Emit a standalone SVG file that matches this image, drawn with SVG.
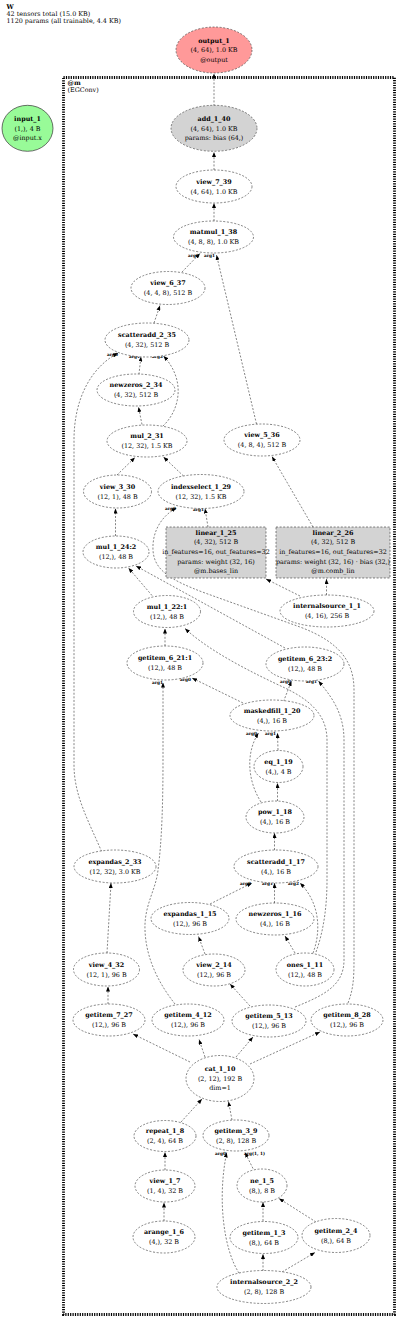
<svg xmlns="http://www.w3.org/2000/svg" width="400" height="1321" viewBox="0 0 400 1321">
<defs>
<marker id="ah" viewBox="0 0 5 4" refX="5" refY="2" markerWidth="5" markerHeight="4" markerUnits="userSpaceOnUse" orient="auto"><path d="M0,0 L5,2 L0,4 z" fill="#000"/></marker>
<style>
text{font-family:"DejaVu Serif","Liberation Serif",serif;font-size:6.4px;text-anchor:middle;fill:#000}
.b{font-weight:bold}
.t{text-anchor:start}
.lbl{font-size:4.3px;text-anchor:end;font-weight:bold}
.n ellipse,.n rect{fill:#fff;stroke:#333;stroke-width:0.6;stroke-dasharray:2,1.6}
.g ellipse,.g rect{fill:#d3d3d3}
.e path{fill:none;stroke:#333;stroke-width:0.6;stroke-dasharray:2,1.6;marker-end:url(#ah)}
</style>
</defs>
<rect width="400" height="1321" fill="#fff"/>
<g id="title">
<text class="b t" x="6.5" y="8.5">W</text>
<text class="t" x="6.5" y="15.5">42 tensors total (15.0 KB)</text>
<text class="t" x="6.5" y="22.5">1120 params (all trainable, 4.4 KB)</text>
</g>
<g id="cluster_m">
<rect x="63.5" y="77.5" width="331" height="1237" fill="none" stroke="#000" stroke-width="2.8" stroke-dasharray="1.2,1.2"/>
<text class="b t" x="67.5" y="84.5">@m</text>
<text class="t" x="67.5" y="91.5">(EGConv)</text>
</g>
<g id="edges" class="e">
<path d="M214,106 L214,73.5"/>
<path d="M214,170 L214,152"/>
<path d="M214,221 L214,203"/>
<path d="M182,272 L200,253.5"/>
<path d="M256.5,424 L216.5,255"/>
<path d="M154,323 L160,305.5"/>
<path d="M138.5,378 L141,356.5"/>
<path d="M101.7,851.7 C88,820 74,795 74,765 L74,440 C74,400 90,368 118,353"/>
<path d="M142,424.5 L138.5,407"/>
<path d="M163,426 C180,410 186,380 163.5,356"/>
<path d="M117,475 L135,457.5"/>
<path d="M183.5,476 L163.5,457"/>
<path d="M115.5,536 L115.5,508.5"/>
<path d="M208,527 L205,508.5"/>
<path d="M348,1003 C353,990 354,980 354,960 L354,690 C354,662 340,642 300,627 L205,593 C170,580 154,570 153,550 C152,530 163,515 176.5,508"/>
<path d="M300,596 L266,579"/>
<path d="M326.5,595 L326.5,579"/>
<path d="M313,527 L272,456.5"/>
<path d="M152,595.5 L128.5,568"/>
<path d="M285,648 L136,566"/>
<path d="M165,646 L165,628.5"/>
<path d="M316,952 C324,930 327,905 327,880 L327,740 C327,715 310,700 285,688 C255,674 210,652 185,628.5"/>
<path d="M243,703 L192,678"/>
<path d="M175,1004 C160,985 146,960 145,930 C144,905 156,890 158,870 C162,840 163,800 163,760 L163,682.5"/>
<path d="M283.5,701.5 L291.5,681"/>
<path d="M295,1007 C325,995 344,985 344,960 L344,740 C344,712 330,695 318.5,681"/>
<path d="M278,750 L277.5,733"/>
<path d="M261,802 C247,780 246,752 258.5,733"/>
<path d="M277.5,801 L277.5,783"/>
<path d="M274.5,850 L274.5,833"/>
<path d="M210,904 L252,883"/>
<path d="M274.5,903 L274.5,883"/>
<path d="M313,953 C320,935 322,905 300,883"/>
<path d="M295,953 L285,936"/>
<path d="M205,954 L198.5,936.5"/>
<path d="M250,1006 L230,984"/>
<path d="M108,1004 L108,986.5"/>
<path d="M107,953 L111,883"/>
<path d="M190,1062 L133,1034"/>
<path d="M205,1057 L199,1039.5"/>
<path d="M236,1057 L253,1037"/>
<path d="M250,1064 L320,1032"/>
<path d="M181,1122 L202,1099"/>
<path d="M232,1120 L228.5,1101.5"/>
<path d="M165,1170 L165,1152"/>
<path d="M164,1221 L164,1202.5"/>
<path d="M253,1168.5 L245,1152.5"/>
<path d="M239,1273 C224,1250 217,1200 226.7,1152.5"/>
<path d="M263,1221 L263,1202"/>
<path d="M316,1222 L279,1198.5"/>
<path d="M263,1271 L263,1254"/>
<path d="M282,1272 L315,1252.5"/>
</g>
<g id="edge-labels">
<text class="lbl" x="199" y="256.5">arg0</text>
<text class="lbl" x="215" y="257">arg1</text>
<text class="lbl" x="118" y="356">arg0</text>
<text class="lbl" x="140" y="358">arg1</text>
<text class="lbl" x="163" y="358">arg2</text>
<text class="lbl" x="176" y="510">arg0</text>
<text class="lbl" x="204" y="511">arg1</text>
<text class="lbl" x="163" y="684">arg1</text>
<text class="lbl" x="191" y="681">arg0</text>
<text class="lbl" x="291" y="683">arg0</text>
<text class="lbl" x="317" y="683">arg1</text>
<text class="lbl" x="257" y="735">arg0</text>
<text class="lbl" x="276" y="735">arg1</text>
<text class="lbl" x="251" y="885">arg0</text>
<text class="lbl" x="273" y="885">arg1</text>
<text class="lbl" x="299" y="885">arg2</text>
<text class="lbl" x="226" y="1155">arg0</text>
<text class="lbl" x="265" y="1155">arg(1, 1)</text>
</g>
<g id="input_1"><ellipse cx="27.5" cy="128.3" rx="25.5" ry="23" fill="#98fb98" stroke="#333" stroke-width="0.7"/>
<text class="b" x="27.5" y="120.8">input_1</text><text x="27.5" y="130.5">(1,), 4 B</text><text x="27.5" y="140.2">@input.x</text></g>
<g id="output_1"><ellipse cx="214" cy="50" rx="38" ry="23" fill="#ff9999" stroke="#333" stroke-width="0.6" stroke-dasharray="2,1.6"/>
<text class="b" x="214" y="42.5">output_1</text><text x="214" y="52.2">(4, 64), 1.0 KB</text><text x="214" y="61.9">@output</text></g>
<g id="add_1_40" class="n g"><ellipse cx="214" cy="128.3" rx="43" ry="23"/>
<text class="b" x="214" y="120.8">add_1_40</text><text x="214" y="130.5">(4, 64), 1.0 KB</text><text x="214" y="140.2">params: bias (64,)</text></g>
<g id="view_7_39" class="n"><ellipse cx="214" cy="186.5" rx="38" ry="16.5"/>
<text class="b" x="214" y="183.9">view_7_39</text><text x="214" y="193.6">(4, 64), 1.0 KB</text></g>
<g id="matmul_1_38" class="n"><ellipse cx="213.5" cy="237" rx="40" ry="16"/>
<text class="b" x="213.5" y="234.4">matmul_1_38</text><text x="213.5" y="244.1">(4, 8, 8), 1.0 KB</text></g>
<g id="view_6_37" class="n"><ellipse cx="168" cy="288" rx="37" ry="16.5"/>
<text class="b" x="168" y="285.4">view_6_37</text><text x="168" y="295.1">(4, 4, 8), 512 B</text></g>
<g id="scatteradd_2_35" class="n"><ellipse cx="147" cy="340" rx="42" ry="17"/>
<text class="b" x="147" y="337.4">scatteradd_2_35</text><text x="147" y="347.1">(4, 32), 512 B</text></g>
<g id="newzeros_2_34" class="n"><ellipse cx="136" cy="390" rx="39" ry="16"/>
<text class="b" x="136" y="387.4">newzeros_2_34</text><text x="136" y="397.1">(4, 32), 512 B</text></g>
<g id="mul_2_31" class="n"><ellipse cx="147" cy="441" rx="40" ry="16"/>
<text class="b" x="147" y="438.4">mul_2_31</text><text x="147" y="448.1">(12, 32), 1.5 KB</text></g>
<g id="view_5_36" class="n"><ellipse cx="262" cy="440" rx="38" ry="16"/>
<text class="b" x="262" y="437.4">view_5_36</text><text x="262" y="447.1">(4, 8, 4), 512 B</text></g>
<g id="view_3_30" class="n"><ellipse cx="117.5" cy="491.5" rx="34" ry="16.5"/>
<text class="b" x="117.5" y="488.9">view_3_30</text><text x="117.5" y="498.6">(12, 1), 48 B</text></g>
<g id="indexselect_1_29" class="n"><ellipse cx="201" cy="491.5" rx="43" ry="17"/>
<text class="b" x="201" y="488.9">indexselect_1_29</text><text x="201" y="498.6">(12, 32), 1.5 KB</text></g>
<g id="linear_1_25" class="n g"><rect x="166" y="527" width="100" height="51"/>
<text class="b" x="216" y="534.5">linear_1_25</text><text x="216" y="544.2">(4, 32), 512 B</text><text x="216" y="553.9">in_features=16, out_features=32</text><text x="216" y="563.6">params: weight (32, 16)</text><text x="216" y="573.3">@m.bases_lin</text></g>
<g id="linear_2_26" class="n g"><rect x="276" y="527" width="114" height="51"/>
<text class="b" x="333" y="534.5">linear_2_26</text><text x="333" y="544.2">(4, 32), 512 B</text><text x="333" y="553.9">in_features=16, out_features=32</text><text x="333" y="563.6">params: weight (32, 16) · bias (32,)</text><text x="333" y="573.3">@m.comb_lin</text></g>
<g id="internalsource_1_1" class="n"><ellipse cx="327" cy="611" rx="47" ry="16"/>
<text class="b" x="327" y="608.4">internalsource_1_1</text><text x="327" y="618.1">(4, 16), 256 B</text></g>
<g id="mul_1_24_2" class="n"><ellipse cx="116" cy="552" rx="33" ry="16"/>
<text class="b" x="116" y="549.4">mul_1_24:2</text><text x="116" y="559.1">(12,), 48 B</text></g>
<g id="mul_1_22_1" class="n"><ellipse cx="167" cy="611.5" rx="33.5" ry="16"/>
<text class="b" x="167" y="608.9">mul_1_22:1</text><text x="167" y="618.6">(12,), 48 B</text></g>
<g id="getitem_6_21_1" class="n"><ellipse cx="165" cy="663" rx="38" ry="17"/>
<text class="b" x="165" y="660.4">getitem_6_21:1</text><text x="165" y="670.1">(12,), 48 B</text></g>
<g id="getitem_6_23_2" class="n"><ellipse cx="305" cy="664" rx="39" ry="17"/>
<text class="b" x="305" y="661.4">getitem_6_23:2</text><text x="305" y="671.1">(12,), 48 B</text></g>
<g id="maskedfill_1_20" class="n"><ellipse cx="272" cy="715.5" rx="42" ry="15.5"/>
<text class="b" x="272" y="712.9">maskedfill_1_20</text><text x="272" y="722.6">(4,), 16 B</text></g>
<g id="eq_1_19" class="n"><ellipse cx="278.5" cy="766.5" rx="24.5" ry="16"/>
<text class="b" x="278.5" y="763.9">eq_1_19</text><text x="278.5" y="773.6">(4,), 4 B</text></g>
<g id="pow_1_18" class="n"><ellipse cx="275" cy="817" rx="29" ry="16"/>
<text class="b" x="275" y="814.4">pow_1_18</text><text x="275" y="824.1">(4,), 16 B</text></g>
<g id="scatteradd_1_17" class="n"><ellipse cx="276" cy="866.5" rx="42" ry="16.5"/>
<text class="b" x="276" y="863.9">scatteradd_1_17</text><text x="276" y="873.6">(4,), 16 B</text></g>
<g id="expandas_2_33" class="n"><ellipse cx="115" cy="866.5" rx="41" ry="16.5"/>
<text class="b" x="115" y="863.9">expandas_2_33</text><text x="115" y="873.6">(12, 32), 3.0 KB</text></g>
<g id="expandas_1_15" class="n"><ellipse cx="190" cy="918.5" rx="39" ry="16"/>
<text class="b" x="190" y="915.9">expandas_1_15</text><text x="190" y="925.6">(12,), 96 B</text></g>
<g id="newzeros_1_16" class="n"><ellipse cx="275" cy="919" rx="39" ry="16"/>
<text class="b" x="275" y="916.4">newzeros_1_16</text><text x="275" y="926.1">(4,), 16 B</text></g>
<g id="view_4_32" class="n"><ellipse cx="106.5" cy="969.5" rx="33" ry="16.5"/>
<text class="b" x="106.5" y="966.9">view_4_32</text><text x="106.5" y="976.6">(12, 1), 96 B</text></g>
<g id="view_2_14" class="n"><ellipse cx="214" cy="970" rx="31" ry="16"/>
<text class="b" x="214" y="967.4">view_2_14</text><text x="214" y="977.1">(12,), 96 B</text></g>
<g id="ones_1_11" class="n"><ellipse cx="305" cy="969.5" rx="29" ry="16.5"/>
<text class="b" x="305" y="966.9">ones_1_11</text><text x="305" y="976.6">(12,), 48 B</text></g>
<g id="getitem_7_27" class="n"><ellipse cx="109" cy="1020" rx="36" ry="16"/>
<text class="b" x="109" y="1017.4">getitem_7_27</text><text x="109" y="1027.1">(12,), 96 B</text></g>
<g id="getitem_4_12" class="n"><ellipse cx="188" cy="1020" rx="36" ry="16"/>
<text class="b" x="188" y="1017.4">getitem_4_12</text><text x="188" y="1027.1">(12,), 96 B</text></g>
<g id="getitem_5_13" class="n"><ellipse cx="269" cy="1021" rx="37" ry="16"/>
<text class="b" x="269" y="1018.4">getitem_5_13</text><text x="269" y="1028.1">(12,), 96 B</text></g>
<g id="getitem_8_28" class="n"><ellipse cx="347" cy="1020" rx="36" ry="16"/>
<text class="b" x="347" y="1017.4">getitem_8_28</text><text x="347" y="1027.1">(12,), 96 B</text></g>
<g id="cat_1_10" class="n"><ellipse cx="220" cy="1078.5" rx="34" ry="23"/>
<text class="b" x="220" y="1071">cat_1_10</text><text x="220" y="1080.7">(2, 12), 192 B</text><text x="220" y="1090.4">dim=1</text></g>
<g id="repeat_1_8" class="n"><ellipse cx="165" cy="1136" rx="31" ry="15.5"/>
<text class="b" x="165" y="1133.4">repeat_1_8</text><text x="165" y="1143.1">(2, 4), 64 B</text></g>
<g id="getitem_3_9" class="n"><ellipse cx="236" cy="1135.5" rx="33" ry="15.5"/>
<text class="b" x="236" y="1132.9">getitem_3_9</text><text x="236" y="1142.6">(2, 8), 128 B</text></g>
<g id="view_1_7" class="n"><ellipse cx="165" cy="1186" rx="30" ry="16"/>
<text class="b" x="165" y="1183.4">view_1_7</text><text x="165" y="1193.1">(1, 4), 32 B</text></g>
<g id="ne_1_5" class="n"><ellipse cx="262" cy="1185.5" rx="25" ry="16.5"/>
<text class="b" x="262" y="1182.9">ne_1_5</text><text x="262" y="1192.6">(8,), 8 B</text></g>
<g id="arange_1_6" class="n"><ellipse cx="164" cy="1237" rx="31" ry="16"/>
<text class="b" x="164" y="1234.4">arange_1_6</text><text x="164" y="1244.1">(4,), 32 B</text></g>
<g id="getitem_1_3" class="n"><ellipse cx="264" cy="1237.5" rx="34" ry="16"/>
<text class="b" x="264" y="1234.9">getitem_1_3</text><text x="264" y="1244.6">(8,), 64 B</text></g>
<g id="getitem_2_4" class="n"><ellipse cx="336" cy="1235.5" rx="34" ry="17"/>
<text class="b" x="336" y="1232.9">getitem_2_4</text><text x="336" y="1242.6">(8,), 64 B</text></g>
<g id="internalsource_2_2" class="n"><ellipse cx="264" cy="1287" rx="47" ry="16.5"/>
<text class="b" x="264" y="1284.4">internalsource_2_2</text><text x="264" y="1294.1">(2, 8), 128 B</text></g>
</svg>
